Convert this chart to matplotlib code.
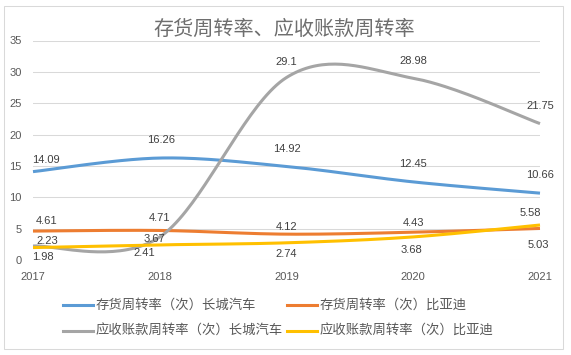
import numpy as np
import matplotlib
matplotlib.use('Agg')
import matplotlib.pyplot as plt
from matplotlib.lines import Line2D
from matplotlib.patches import Rectangle

# ---------------- data ----------------
years = ['2017', '2018', '2019', '2020', '2021']
inv_gwm = [14.09, 16.26, 14.92, 12.45, 10.66]   # 存货周转率（次）长城汽车
inv_byd = [4.61, 4.71, 4.12, 4.43, 5.03]        # 存货周转率（次）比亚迪
ar_gwm = [2.23, 3.67, 29.1, 28.98, 21.75]       # 应收账款周转率（次）长城汽车
ar_byd = [1.98, 2.41, 2.74, 3.68, 5.58]         # 应收账款周转率（次）比亚迪
series_names = ['存货周转率（次）长城汽车', '存货周转率（次）比亚迪',
                '应收账款周转率（次）长城汽车', '应收账款周转率（次）比亚迪']
title = '存货周转率、应收账款周转率'
yticks = [0, 5, 10, 15, 20, 25, 30, 35]

colors = ['#5B9BD5', '#ED7D31', '#A5A5A5', '#FFC000']
# label offsets in pixels (dx, dy), dy>0 = up
label_offsets = [
    [(13, 12), (1, 18), (0, 17), (0, 18), (0, 18)],
    [(14, 10), (0, 12), (0, 7), (0, 9), (-2, -17)],
    [(14, 5), (-5, -2), (0, 16), (0, 17.5), (0, 18)],
    [(10, -9.5), (-15, -8), (0, -11), (-2, -13), (-10, 12)],
]

W, H = 571, 355
fig = plt.figure(figsize=(W / 100, H / 100), dpi=100)

def fx(px):
    return px / W

def fy(py):
    return 1 - py / H

ax = fig.add_axes([fx(33), fy(260), fx(540) - fx(33), fy(40.5) - fy(260)])
ax.set_xlim(0, 4)
ax.set_ylim(0, 35)
for s in ax.spines.values():
    s.set_visible(False)
ax.set_yticks(yticks)
ax.set_xticks(range(len(years)))
ax.set_xticklabels(years)
ax.tick_params(length=0, colors='#595959', labelsize=8)
ax.tick_params(axis='y', pad=8)
ax.tick_params(axis='x', pad=9)
for lab in ax.get_xticklabels() + ax.get_yticklabels():
    lab.set_fontfamily('Liberation Sans')
for yv in yticks:
    ax.axhline(yv, color='#D9D9D9', lw=0.75, zorder=0)


def smooth(xs, ys, n=40):
    P = np.column_stack([xs, ys]).astype(float)
    out = [P[0]]
    m = len(P)
    t = np.linspace(0, 1, n)[1:, None]
    for i in range(m - 1):
        p0 = P[i - 1] if i > 0 else P[i]
        p1 = P[i]
        p2 = P[i + 1]
        p3 = P[i + 2] if i + 2 < m else P[i + 1]
        c1 = p1 + (p2 - p0) / 6
        c2 = p2 - (p3 - p1) / 6
        seg = (1 - t) ** 3 * p1 + 3 * (1 - t) ** 2 * t * c1 + 3 * (1 - t) * t ** 2 * c2 + t ** 3 * p2
        out.extend(seg)
    return np.array(out)


all_series = [inv_gwm, inv_byd, ar_gwm, ar_byd]
xs = np.arange(len(years))
for k, (vals, col) in enumerate(zip(all_series, colors)):
    c = smooth(xs, vals)
    ax.plot(c[:, 0], c[:, 1], color=col, lw=2.2, solid_capstyle='butt',
            clip_on=False, zorder=2 + k)

for k, vals in enumerate(all_series):
    for i, v in enumerate(vals):
        dx, dy = label_offsets[k][i]
        ax.annotate(f'{v:g}', (xs[i], v), xytext=(dx, dy), textcoords='offset pixels',
                    ha='center', va='center', fontsize=8, color='#404040',
                    family='Liberation Sans', zorder=10, annotation_clip=False)

# title
fig.text(fx(284), fy(29), title, ha='center', va='center', fontsize=14.5,
         color='#6E6E6E', fontweight='light', family=['Noto Sans CJK SC', 'DejaVu Sans'])

# legend (manual, row-major like the reference)
leg_pos = [(63, 305), (287, 305), (63, 331), (287, 331)]
for (lx, ly), name, col in zip(leg_pos, series_names, colors):
    fig.add_artist(Line2D([fx(lx), fx(lx + 30)], [fy(ly), fy(ly)], color=col, lw=2.2,
                          transform=fig.transFigure))
    fig.text(fx(lx + 33), fy(ly), name, ha='left', va='center', fontsize=9.6,
             color='#595959', family=['Noto Sans CJK SC', 'DejaVu Sans'])

# chart border
fig.add_artist(Rectangle((fx(4), fy(349)), fx(563) - fx(4), fy(6) - fy(349),
                         transform=fig.transFigure, fill=False, edgecolor='#D9D9D9', lw=0.75))

fig.savefig('out.png', dpi=100, facecolor='white')
